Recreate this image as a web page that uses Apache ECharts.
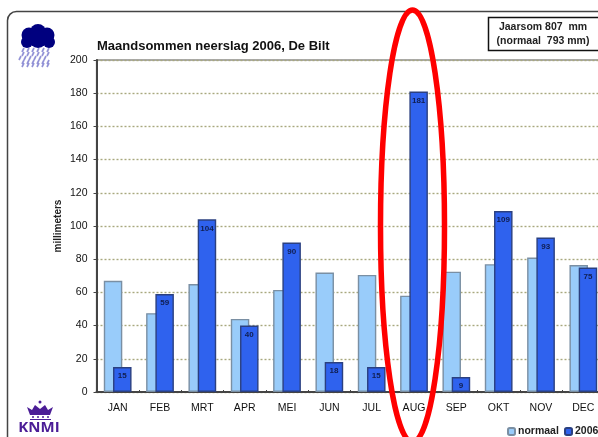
<!DOCTYPE html>
<html>
<head>
<meta charset="utf-8">
<style>
  html, body { margin: 0; padding: 0; background: #fff; overflow: hidden; }
  #chart { width: 598px; height: 437px; filter: blur(0.4px); }
</style>
<script src="https://cdn.jsdelivr.net/npm/echarts@6/dist/echarts.min.js"></script>
</head>
<body>
<div id="chart"></div>
<script>
const months = ['JAN', 'FEB', 'MRT', 'APR', 'MEI', 'JUN', 'JUL', 'AUG', 'SEP', 'OKT', 'NOV', 'DEC'];
const normaal = [67, 47.5, 65, 44, 61.5, 72, 70.5, 58, 72.5, 77, 81, 76.5];
const neerslag2006 = [15, 59, 104, 40, 90, 18, 15, 181, 9, 109, 93, 75];

const FONT = '"Liberation Sans", Arial, sans-serif';
const chart = echarts.init(document.getElementById('chart'));

// rain streaks under the cloud icon
const rain = [];
[[48, 22], [52, 20], [56, 19], [60, 20], [63, 22]].forEach(([y, x0], row) => {
  for (let i = 0; i < 6; i++) {
    const x = x0 + i * 5 + (row % 2 ? 2 : 0);
    rain.push({
      type: 'line',
      shape: { x1: x + 2, y1: y, x2: x, y2: y + 4 },
      style: { stroke: '#9292d6', lineWidth: 1.7 },
    });
  }
});

const cloud = [[29, 35, 7.5], [38, 32, 8], [47, 35, 7.5], [27, 42, 6], [49, 42, 6], [38, 39, 9]].map(([cx, cy, r]) => ({
  type: 'circle',
  shape: { cx, cy, r },
  style: { fill: '#00007f' },
}));

const crownColor = '#4b1d96';
const crown = [
  {
    type: 'polygon',
    shape: { points: [[27, 407], [32, 410], [35, 405], [40, 409], [45, 405], [48, 410], [53, 407], [50, 415], [30, 415]] },
    style: { fill: crownColor },
  },
  { type: 'circle', shape: { cx: 40, cy: 402, r: 1.5 }, style: { fill: crownColor } },
  { type: 'circle', shape: { cx: 33, cy: 417, r: 1 }, style: { fill: crownColor } },
  { type: 'circle', shape: { cx: 38, cy: 417, r: 1 }, style: { fill: crownColor } },
  { type: 'circle', shape: { cx: 43, cy: 417, r: 1 }, style: { fill: crownColor } },
  { type: 'circle', shape: { cx: 48, cy: 417, r: 1 }, style: { fill: crownColor } },
  { type: 'rect', shape: { x: 30, y: 419, width: 21, height: 1 }, style: { fill: crownColor } },
];

const legendBase = {
  top: 426,
  padding: 0,
  itemWidth: 7,
  itemHeight: 7,
  textStyle: { fontSize: 10.5, fontWeight: 'bold', color: '#222', padding: [0, 0, 0, -2] },
};

chart.setOption({
  animation: false,
  textStyle: { fontFamily: FONT },
  title: {
    text: 'Maandsommen neerslag 2006, De Bilt',
    left: 97,
    top: 40,
    padding: 0,
    textStyle: { fontSize: 13, fontWeight: 'bold', color: '#111', fontFamily: FONT },
  },
  legend: [
    { ...legendBase, left: 507, data: ['normaal'] },
    { ...legendBase, left: 564, data: ['2006'] },
  ],
  grid: {
    left: 96.5,
    top: 60,
    width: 508,
    height: 332,
    outerBoundsMode: 'none',
    show: true,
    borderColor: '#555',
    borderWidth: 1.2,
  },
  xAxis: {
    type: 'category',
    data: months,
    axisLine: { lineStyle: { color: '#444', width: 2 } },
    axisTick: { show: true, alignWithLabel: false, length: 2, inside: true, lineStyle: { color: '#444' } },
    axisLabel: { color: '#111', fontSize: 10.5, margin: 11 },
    splitLine: { show: false },
  },
  yAxis: {
    type: 'value',
    min: 0,
    max: 200,
    interval: 20,
    name: 'millimeters',
    nameLocation: 'middle',
    nameGap: 33,
    nameMoveOverlap: false,
    nameTextStyle: { fontSize: 10, fontWeight: 'bold', color: '#222' },
    axisLine: { show: true, lineStyle: { color: '#444', width: 2 } },
    axisTick: { show: true, length: 3, lineStyle: { color: '#444' } },
    axisLabel: { color: '#111', fontSize: 10.5, margin: 9 },
    splitLine: { lineStyle: { type: [2, 2], color: '#a8a87e', width: 1.4 } },
  },
  series: [
    {
      name: 'normaal',
      type: 'bar',
      data: normaal,
      barWidth: 18.5,
      barGap: '-50%',
      itemStyle: { color: '#99ccfa', borderColor: '#7a8fa3', borderWidth: 1.4 },
    },
    {
      name: '2006',
      type: 'bar',
      data: neerslag2006,
      barWidth: 18.5,
      itemStyle: { color: '#2f62ee', borderColor: '#2b4080', borderWidth: 1.4 },
      label: {
        show: true,
        position: 'insideTop',
        distance: 5,
        fontSize: 8,
        fontWeight: 'bold',
        color: '#101e50',
      },
    },
  ],
  graphic: [
    {
      type: 'rect',
      silent: true,
      z: -1,
      shape: { x: 7.5, y: 11.5, width: 640, height: 480, r: 9 },
      style: { fill: 'none', stroke: '#444', lineWidth: 1.5 },
    },
    {
      type: 'rect',
      silent: true,
      z: 5,
      shape: { x: 488.5, y: 17.5, width: 140, height: 33 },
      style: { fill: '#fff', stroke: '#111', lineWidth: 1.5 },
    },
    {
      type: 'text',
      z: 6,
      style: { x: 543, y: 21.5, text: 'Jaarsom 807  mm', textAlign: 'center', font: 'bold 10.5px ' + FONT, fill: '#222' },
    },
    {
      type: 'text',
      z: 6,
      style: { x: 543, y: 35.5, text: '(normaal  793 mm)', textAlign: 'center', font: 'bold 10.5px ' + FONT, fill: '#222' },
    },
    ...cloud.map(c => ({ ...c, silent: true, z: 5 })),
    ...rain.map(r => ({ ...r, silent: true, z: 4 })),
    ...crown.map(c => ({ ...c, silent: true, z: 5 })),
    {
      type: 'text',
      z: 6,
      style: { x: 39, y: 420, text: 'KNMI', textAlign: 'center', font: 'bold 15px "Open Sans", ' + FONT, fill: crownColor },
    },
    {
      type: 'ellipse',
      silent: true,
      z: 20,
      shape: { cx: 412.5, cy: 226, rx: 32, ry: 216 },
      style: { fill: 'none', stroke: '#ff0000', lineWidth: 5.5 },
    },
  ],
});
</script>
</body>
</html>
